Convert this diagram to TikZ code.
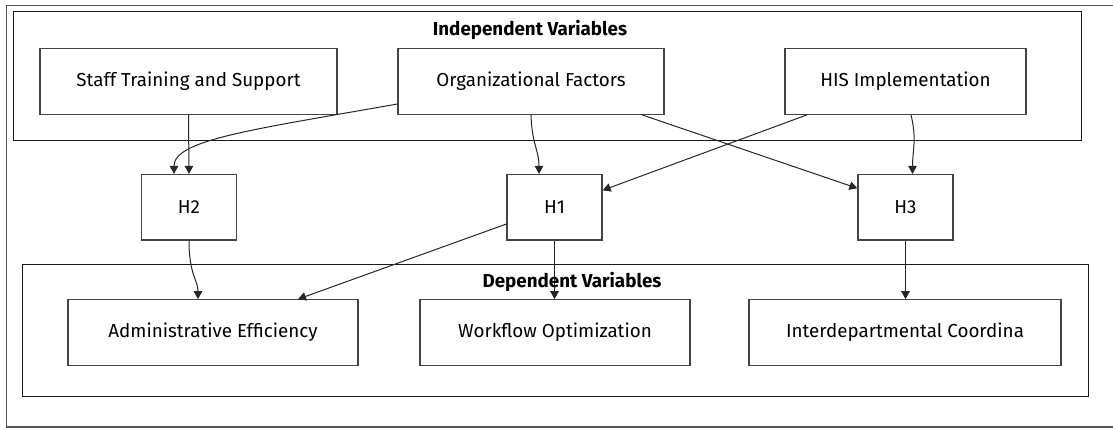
\documentclass[tikz,border=0pt]{standalone}
\usepackage{fontspec}
\setmainfont{Fira Sans}
\usetikzlibrary{arrows.meta}
\definecolor{boxline}{HTML}{444444}
\definecolor{frameline}{HTML}{555555}
\tikzset{
  varbox/.style={draw=boxline, line width=1.2pt, fill=white, rectangle, minimum height=65.5pt, inner sep=0pt, font=\fontsize{18.8}{22}\selectfont, text=black},
  hypbox/.style={varbox, minimum width=95pt},
  cluster/.style={draw=black!90, line width=1pt},
  ctitle/.style={font=\fontsize{18.8}{22}\selectfont\bfseries, text=black},
  link/.style={draw=black!85, line width=1pt, -{Triangle[length=8pt,width=8.5pt]}},
}
\begin{document}
\begin{tikzpicture}[x=1pt, y=-1pt]
\useasboundingbox (0,0) rectangle (1113,428);
% outer frame
\draw[draw=frameline, line width=1.3pt] (6.5,5.5) rectangle (1125,427);
% clusters
\draw[cluster] (13.5,11.7) rectangle (1081.5,140);
\draw[cluster] (22,264) rectangle (1088,396);
\node[ctitle] (indtitle) at (530,30) {Independent Variables};
% nodes
\node[varbox, minimum width=297pt] (staff) at (188.5,81.5) {Staff Training and Support};
\node[varbox, minimum width=266pt] (org) at (531,81.5) {Organizational Factors};
\node[varbox, minimum width=241pt] (his) at (905.5,81.5) {HIS Implementation};
\node[hypbox] (h2) at (189,207.3) {H2};
\node[hypbox] (h1) at (554.5,207.3) {H1};
\node[hypbox] (h3) at (905.5,207.3) {H3};
\node[varbox, minimum width=290pt] (admin) at (213,332.5) {Administrative Efficiency};
\node[varbox, minimum width=270pt] (work) at (555,332.5) {Workflow Optimization};
\node[varbox, minimum width=312pt] (inter) at (905,332.5) {Interdepartmental Coordina};
% connectors
\draw[link] (staff.south) -- (h2.north);
\draw[link] ([yshift=-22.5pt]org.west) .. controls (250,130) and ([xshift=-15pt]h2.north |- 0,140) .. ([xshift=-15pt]h2.north);
\draw[link] (org.south) .. controls (532,145) and (539,150) .. ([xshift=-15.5pt]h1.north);
\draw[link] ([xshift=111pt]org.south) -- ([yshift=19pt]h3.west);
\draw[link] ([xshift=-98.5pt]his.south) -- ([yshift=17pt]h1.east);
\draw[link] ([xshift=5.5pt]his.south) .. controls (917,140) and (912.5,150) .. ([xshift=7pt]h3.north);
\draw[link] (h2.south) .. controls (189,275) and (198,280) .. ([xshift=-15pt]admin.north);
\draw[link] ([yshift=-16.7pt]h1.west) -- ([xshift=85pt]admin.north);
\draw[link] (h1.south) -- (h1.south |- work.north);
\draw[link] (h3.south) -- (h3.south |- inter.north);
\node[ctitle] (deptitle) at (572,282) {Dependent Variables};
\end{tikzpicture}
\end{document}
